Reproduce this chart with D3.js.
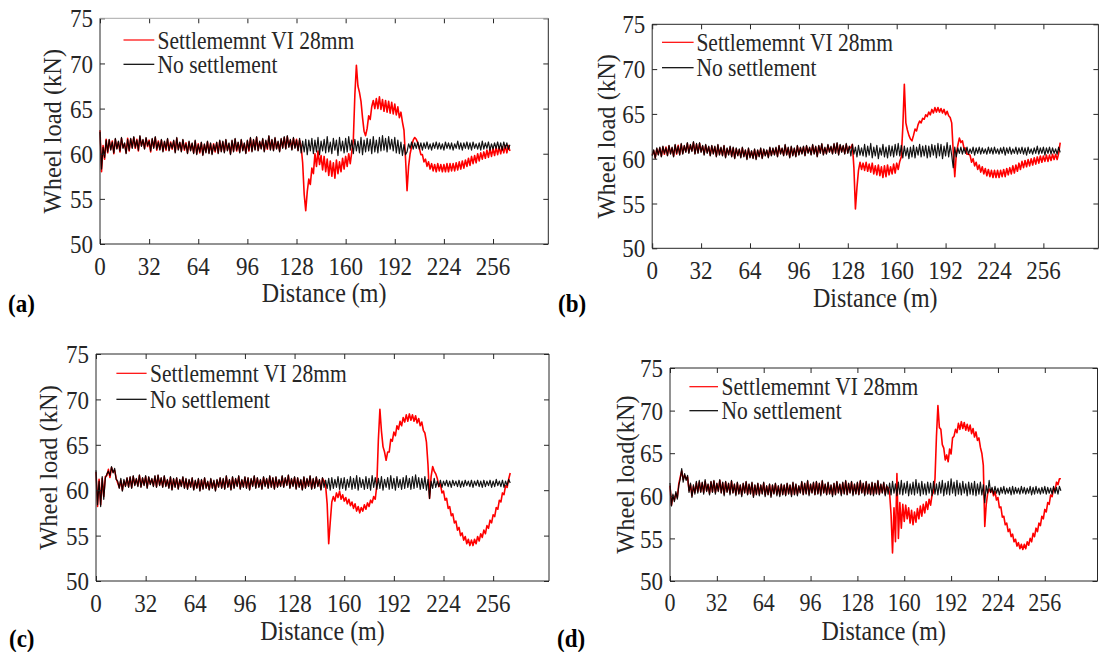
<!DOCTYPE html>
<html><head><meta charset="utf-8">
<script src="https://cdn.jsdelivr.net/npm/d3@7/dist/d3.min.js"></script>
<style>
body{margin:0;background:#fff}
svg{display:block}
#chart text{font-family:"Liberation Serif","Times New Roman",Times,serif;}
</style>
</head><body>
<svg id="chart" width="1099" height="652"></svg>
<script>
// ---------------- DATA ----------------
const dist = [
0,1,2,3,4,5,6,7,8,9,10,11,12,13,14,15,16,17,18,19,
20,21,22,23,24,25,26,27,28,29,30,31,32,33,34,35,36,37,38,39,
40,41,42,43,44,45,46,47,48,49,50,51,52,53,54,55,56,57,58,59,
60,61,62,63,64,65,66,67,68,69,70,71,72,73,74,75,76,77,78,79,
80,81,82,83,84,85,86,87,88,89,90,91,92,93,94,95,96,97,98,99,
100,101,102,103,104,105,106,107,108,109,110,111,112,113,114,115,116,117,118,119,
120,121,122,123,124,125,126,127,128,129,130,131,132,133,134,135,136,137,138,139,
140,141,142,143,144,145,146,147,148,149,150,151,152,153,154,155,156,157,158,159,
160,161,162,163,164,165,166,167,168,169,170,171,172,173,174,175,176,177,178,179,
180,181,182,183,184,185,186,187,188,189,190,191,192,193,194,195,196,197,198,199,
200,201,202,203,204,205,206,207,208,209,210,211,212,213,214,215,216,217,218,219,
220,221,222,223,224,225,226,227,228,229,230,231,232,233,234,235,236,237,238,239,
240,241,242,243,244,245,246,247,248,249,250,251,252,253,254,255,256,257,258,259,
260,261,262,263,264,265,266,267];

const xTicks = [0,32,64,96,128,160,192,224,256];
const yTicks = [50,55,60,65,70,75];
const xDomain = [0,292];
const yDomain = [50,75];
const seriesNames = ["Settlememnt VI 28mm","No settlement"];
const panelLabels = ["(a)","(b)","(c)","(d)"];
const yTitles = ["Wheel load (kN)","Wheel load (kN)","Wheel load (kN)","Wheel load(kN)"];
const xTitle = "Distance (m)";

// (a)
const setA = [
62.6,58.0,60.9,59.4,61.6,60.1,61.5,60.5,61.4,60.0,61.6,60.6,61.3,60.2,61.7,60.7,61.1,60.1,61.7,60.3,
61.6,60.7,61.8,60.6,61.6,60.3,61.9,60.9,61.5,60.6,61.7,60.8,61.5,60.2,61.6,60.7,61.8,60.4,61.4,60.5,
61.5,60.3,61.3,60.4,61.6,60.4,61.3,60.5,61.4,60.2,61.7,60.5,61.2,60.3,61.5,60.4,61.2,60.1,61.3,60.4,
61.1,60.1,61.4,60.0,61.1,60.1,61.2,59.9,61.0,60.2,61.3,60.1,61.1,60.0,61.1,60.2,61.2,60.1,61.4,60.3,
61.3,60.2,61.5,60.4,61.1,60.0,61.4,60.3,61.6,60.3,61.2,60.2,61.5,60.4,61.1,60.1,61.4,60.3,61.7,60.3,
61.5,60.5,61.8,60.4,61.3,60.6,61.6,60.3,61.4,60.5,61.9,60.5,61.5,60.4,61.7,60.6,61.3,60.3,61.6,60.7,
61.8,60.6,61.9,60.8,61.5,60.5,61.7,60.7,61.6,60.4,61.5,60.8,59.0,55.5,53.7,55.8,57.2,56.6,58.4,57.8,
60.0,58.6,60.3,58.8,59.8,58.2,59.7,58.0,59.4,57.6,59.2,57.5,59.0,57.3,59.3,57.8,59.1,58.0,59.5,58.3,
59.7,58.6,60.0,58.9,60.2,61.5,66.5,69.8,67.5,66.8,65.8,64.0,62.5,62.0,62.8,64.2,63.8,65.2,65.9,65.0,
66.1,65.0,66.3,64.9,66.0,64.7,65.9,64.6,65.8,64.5,65.7,64.4,65.5,64.3,65.2,64.0,64.6,63.5,62.6,59.5,
55.9,58.6,60.0,60.8,61.5,61.8,61.6,61.2,60.6,59.9,59.9,59.1,59.4,58.6,59.1,58.3,58.9,58.1,58.8,58.0,
58.9,58.1,58.8,58.0,58.8,58.0,58.9,58.0,58.9,58.1,58.9,58.1,59.0,58.2,59.1,58.3,59.2,58.4,59.3,58.6,
59.5,58.7,59.7,58.9,59.8,59.0,60.0,59.2,60.1,59.4,60.2,59.5,60.4,59.6,60.5,59.7,60.6,59.8,60.7,59.9,
60.7,60.0,60.8,60.1,60.9,60.1,60.9,60.3];
const noA = [
62.4,58.3,60.7,59.6,61.5,60.2,61.6,60.4,61.3,60.1,61.7,60.5,61.4,60.3,61.8,60.6,61.2,60.0,61.6,60.4,
61.7,60.6,61.9,60.7,61.5,60.4,62.0,60.8,61.6,60.5,61.8,60.9,61.4,60.3,61.7,60.6,61.9,60.5,61.3,60.4,
61.6,60.2,61.4,60.5,61.7,60.3,61.2,60.6,61.5,60.1,61.8,60.4,61.3,60.2,61.6,60.5,61.1,60.0,61.4,60.3,
61.2,60.0,61.5,59.9,61.0,60.2,61.3,59.8,61.1,60.1,61.4,60.0,61.2,59.9,61.0,60.3,61.3,60.0,61.5,60.2,
61.4,60.1,61.6,60.3,61.2,59.9,61.5,60.2,61.7,60.4,61.3,60.1,61.6,60.3,61.2,60.0,61.5,60.4,61.8,60.2,
61.6,60.4,61.9,60.3,61.4,60.5,61.7,60.2,61.5,60.6,62.0,60.4,61.6,60.3,61.8,60.5,61.4,60.2,61.7,60.6,
61.9,60.5,62.0,60.7,61.6,60.4,61.8,60.6,61.5,60.3,61.7,60.1,61.4,60.2,61.6,59.9,61.5,60.3,61.7,60.0,
61.5,60.2,61.8,59.9,61.4,60.3,61.6,60.1,61.9,60.2,61.3,60.0,61.7,60.4,61.5,59.8,61.8,60.3,61.4,60.1,
61.7,60.2,61.9,60.4,61.5,60.0,61.6,60.3,61.4,60.1,61.8,59.9,61.5,60.2,61.7,60.3,61.6,60.0,61.9,60.2,
61.5,60.1,61.8,60.3,62.0,60.4,61.7,60.2,61.9,60.5,61.6,60.3,61.8,60.1,61.5,60.0,61.3,59.8,61.0,59.9,
60.2,61.1,60.6,61.3,60.5,61.2,60.6,61.3,60.5,61.2,60.4,61.2,60.6,61.3,60.5,61.1,60.4,61.2,60.6,61.3,
60.5,61.2,60.5,61.1,60.4,61.3,60.6,61.2,60.5,61.2,60.4,61.1,60.6,61.4,60.5,61.2,60.4,61.2,60.6,61.3,
60.5,61.2,60.4,61.3,60.6,61.1,60.5,61.2,60.4,61.4,60.5,61.2,60.6,61.3,60.4,61.1,60.5,61.2,60.6,61.3,
60.5,61.2,60.4,61.3,60.6,61.2,60.5,61.0];

// (b)
const setB = [
60.4,60.9,60.1,61.1,60.5,61.2,60.3,61.3,60.5,61.3,60.4,61.4,60.6,61.2,60.3,61.5,60.5,61.5,60.5,61.6,
60.6,61.4,60.8,61.7,60.7,61.5,60.9,61.8,60.6,61.6,60.7,61.7,60.8,61.4,60.5,61.5,60.7,61.3,60.4,61.4,
60.6,61.3,60.3,61.5,60.5,61.2,60.4,61.4,60.2,61.1,60.5,61.3,60.3,61.2,60.1,61.1,60.4,61.0,60.2,61.2,
60.3,60.9,60.0,61.1,60.2,60.8,60.1,61.0,60.0,60.9,60.3,61.1,60.1,61.0,60.4,60.9,60.2,61.2,60.4,61.1,
60.5,61.2,60.3,61.4,60.6,61.1,60.4,61.5,60.5,61.2,60.2,61.3,60.4,61.1,60.3,61.4,60.5,61.2,60.6,61.3,
60.4,61.4,60.7,61.2,60.5,61.5,60.6,61.3,60.3,61.4,60.7,61.6,60.5,61.2,60.6,61.5,60.8,61.3,60.6,61.6,
60.7,61.7,60.5,61.5,60.8,61.4,60.6,61.6,60.7,61.3,61.2,61.6,59.0,54.4,56.8,58.7,59.6,58.8,59.5,58.7,
59.6,58.6,59.4,58.5,59.5,58.3,59.2,58.2,59.3,58.1,59.1,57.9,59.2,58.0,59.3,58.2,59.1,58.3,59.4,58.4,
59.5,58.8,59.7,60.2,63.5,68.3,64.0,63.2,62.6,62.2,62.0,62.6,63.3,63.1,63.8,64.2,64.0,64.5,64.4,64.9,
64.7,65.2,64.9,65.5,65.1,65.7,65.2,65.7,65.2,65.6,65.1,65.5,64.9,65.3,64.8,64.6,64.0,60.8,58.0,60.5,
61.5,62.3,61.8,62.0,61.2,61.2,60.5,60.5,60.4,59.6,60.0,59.2,59.6,58.8,59.3,58.5,59.1,58.3,58.9,58.1,
58.8,58.0,58.7,57.9,58.7,57.9,58.7,57.9,58.7,58.0,58.8,58.0,58.9,58.2,59.0,58.3,59.2,58.4,59.3,58.6,
59.5,58.8,59.7,59.0,59.8,59.1,59.9,59.2,60.0,59.3,60.1,59.4,60.2,59.5,60.3,59.6,60.3,59.7,60.4,59.7,
60.4,59.8,60.5,59.9,60.5,59.9,60.6,61.8];
const noB = [
60.3,61.0,60.0,61.2,60.4,61.3,60.2,61.4,60.6,61.2,60.3,61.5,60.5,61.3,60.2,61.6,60.6,61.4,60.4,61.7,
60.5,61.5,60.7,61.8,60.6,61.6,60.8,61.9,60.5,61.7,60.6,61.8,60.7,61.5,60.4,61.6,60.6,61.4,60.3,61.5,
60.5,61.4,60.2,61.6,60.4,61.3,60.3,61.5,60.1,61.2,60.4,61.4,60.2,61.3,60.0,61.2,60.3,61.1,60.1,61.3,
60.2,61.0,59.9,61.2,60.1,60.9,60.0,61.1,59.9,61.0,60.2,61.2,60.0,61.1,60.3,61.0,60.1,61.3,60.3,61.2,
60.4,61.3,60.2,61.5,60.5,61.2,60.3,61.6,60.4,61.3,60.1,61.4,60.3,61.2,60.2,61.5,60.4,61.3,60.5,61.4,
60.3,61.5,60.6,61.3,60.4,61.6,60.5,61.4,60.2,61.5,60.6,61.7,60.4,61.3,60.5,61.6,60.7,61.4,60.5,61.7,
60.6,61.8,60.4,61.6,60.7,61.5,60.5,61.7,60.6,61.4,60.3,61.6,60.5,61.3,60.2,61.5,60.4,61.2,60.3,61.6,
60.2,61.4,60.4,61.7,60.1,61.3,60.3,61.5,60.0,61.2,60.4,61.6,60.2,61.3,60.1,61.5,60.3,61.4,60.2,61.6,
60.4,61.7,60.3,61.5,60.1,61.4,60.3,61.2,60.0,61.3,60.2,61.5,60.1,61.3,60.4,61.6,60.2,61.4,60.3,61.5,
60.1,61.4,60.2,61.6,60.4,61.5,60.1,61.7,60.3,61.6,60.0,61.4,60.3,61.8,60.2,61.5,60.4,59.0,61.3,60.2,
61.2,60.6,61.3,60.5,61.2,60.6,61.3,60.5,61.1,60.6,61.3,60.4,61.2,60.6,61.3,60.5,61.2,60.6,61.1,60.5,
61.3,60.6,61.2,60.5,61.3,60.6,61.1,60.5,61.2,60.6,61.3,60.4,61.2,60.6,61.3,60.5,61.1,60.6,61.3,60.5,
61.2,60.6,61.3,60.5,61.2,60.4,61.3,60.6,61.1,60.5,61.2,60.6,61.4,60.5,61.2,60.6,61.3,60.4,61.2,60.6,
61.3,60.5,61.2,60.6,61.1,60.5,61.3,60.7];

// (c)
const setC = [
62.0,58.2,61.2,58.4,61.3,59.3,61.5,61.6,62.3,61.4,62.5,62.0,62.2,61.3,60.8,60.3,61.1,60.0,61.0,60.5,
61.3,60.4,61.4,60.3,61.5,60.6,61.2,60.5,61.6,60.4,61.3,60.6,61.5,60.3,61.4,60.7,61.2,60.5,61.5,60.4,
61.6,60.6,61.3,60.4,61.5,60.5,61.1,60.3,61.4,60.1,61.2,60.4,61.3,60.2,61.1,60.5,61.4,60.3,61.2,60.2,
61.1,60.4,61.3,60.1,61.0,60.3,61.2,60.0,61.1,60.2,61.3,60.3,60.9,60.1,61.2,60.3,61.0,60.0,61.1,60.4,
61.3,60.3,61.2,60.2,61.5,60.4,61.1,60.1,61.4,60.3,61.2,60.5,61.5,60.2,61.1,60.4,61.4,60.3,61.3,60.1,
61.2,60.5,61.5,60.3,61.3,60.4,61.1,60.2,61.4,60.5,61.2,60.3,61.5,60.4,61.3,60.2,61.4,60.4,61.1,60.5,
61.5,60.4,61.3,60.6,61.6,60.3,61.2,60.5,61.4,60.2,61.3,60.4,61.1,60.1,61.4,60.3,61.2,60.5,61.5,60.2,
61.2,60.3,61.4,60.5,61.1,60.1,61.3,61.0,60.5,58.5,54.1,56.5,58.7,59.3,58.8,59.7,59.2,59.9,59.0,59.5,
58.8,59.2,58.5,59.0,58.3,58.7,58.0,58.5,57.7,58.2,57.5,58.1,57.7,58.4,57.9,58.6,58.2,58.9,58.6,59.3,
59.0,60.5,65.5,68.9,66.5,64.8,64.2,63.3,64.2,64.2,65.6,65.4,66.4,66.0,67.1,66.7,67.6,67.1,68.0,67.5,
68.3,67.6,68.4,67.7,68.3,67.6,68.2,67.4,67.9,67.1,67.5,66.6,66.3,65.3,62.8,59.1,61.5,62.6,62.1,61.8,
61.3,60.4,60.7,59.7,59.9,58.9,59.1,58.0,58.2,57.2,57.4,56.4,56.6,55.6,55.9,55.0,55.3,54.5,54.9,54.1,
54.6,53.9,54.5,53.9,54.6,54.1,54.9,54.4,55.2,54.8,55.6,55.2,56.1,55.8,56.7,56.4,57.3,57.1,58.1,57.9,
58.9,58.7,59.7,59.5,60.5,60.3,61.2,61.9];
const noC = [
62.2,58.4,61.0,58.2,61.5,59.0,61.3,61.8,62.1,61.6,62.6,61.9,62.4,61.2,61.0,60.2,61.3,59.9,61.2,60.4,
61.4,60.3,61.5,60.2,61.6,60.5,61.3,60.4,61.7,60.3,61.4,60.5,61.6,60.2,61.5,60.6,61.3,60.4,61.6,60.3,
61.7,60.5,61.4,60.3,61.6,60.4,61.2,60.2,61.5,60.0,61.3,60.3,61.4,60.1,61.2,60.4,61.5,60.2,61.3,60.1,
61.2,60.3,61.4,60.0,61.1,60.2,61.3,59.9,61.2,60.1,61.4,60.2,61.0,60.0,61.3,60.2,61.1,59.9,61.2,60.3,
61.4,60.2,61.3,60.1,61.6,60.3,61.2,60.0,61.5,60.2,61.3,60.4,61.6,60.1,61.2,60.3,61.5,60.2,61.4,60.0,
61.3,60.4,61.6,60.2,61.4,60.3,61.2,60.1,61.5,60.4,61.3,60.2,61.6,60.3,61.4,60.1,61.5,60.3,61.2,60.4,
61.6,60.3,61.4,60.5,61.7,60.2,61.3,60.4,61.5,60.1,61.4,60.3,61.2,60.0,61.5,60.2,61.3,60.4,61.6,60.1,
61.3,60.2,61.5,60.4,61.2,60.0,61.4,60.3,61.1,60.2,61.3,60.0,61.4,60.2,61.2,60.3,61.5,60.1,61.3,60.2,
61.4,60.0,61.2,60.3,61.5,60.1,61.3,60.2,61.6,60.0,61.4,60.3,61.2,60.1,61.5,60.2,61.3,60.0,61.6,60.3,
61.4,60.1,61.3,60.2,61.5,60.0,61.2,60.3,61.4,60.1,61.6,60.2,61.3,60.0,61.5,60.3,61.2,60.1,61.4,60.2,
61.6,60.3,61.3,60.1,61.5,60.2,61.7,60.3,61.4,60.1,61.3,60.2,61.5,60.0,61.2,59.1,61.0,60.2,61.3,60.3,
61.0,60.4,61.1,60.3,61.0,60.5,61.1,60.4,61.0,60.3,61.1,60.5,61.0,60.4,61.1,60.3,61.0,60.4,61.1,60.5,
61.0,60.4,61.1,60.3,61.0,60.5,61.1,60.4,61.0,60.3,61.1,60.4,61.0,60.5,61.1,60.3,61.0,60.4,61.2,60.5,
61.0,60.4,61.1,60.3,61.0,60.5,61.2,60.8];

// (d)
const setD = [
61.2,58.9,60.0,59.5,60.3,59.8,61.4,62.2,62.9,61.9,62.4,62.0,62.2,60.6,61.3,60.0,61.1,60.4,61.5,60.5,
61.6,60.5,61.5,60.4,61.7,60.6,61.3,60.3,61.6,60.5,61.7,60.4,61.4,60.6,61.8,60.4,61.5,60.2,61.6,60.5,
61.4,60.3,61.7,60.4,61.3,60.2,61.5,60.3,61.2,60.1,61.4,60.4,61.6,60.2,61.3,60.3,61.5,60.0,61.2,60.2,
61.4,60.2,61.2,60.3,61.5,60.1,61.1,60.2,61.3,60.0,61.2,60.3,61.4,60.2,61.1,60.1,61.3,60.2,61.2,60.1,
61.4,60.3,61.2,60.1,61.5,60.2,61.3,60.2,61.1,60.4,61.6,60.2,61.4,60.3,61.7,60.2,61.3,60.4,61.5,60.2,
61.6,60.3,61.4,60.2,61.7,60.4,61.3,60.2,61.5,60.3,61.2,60.1,61.4,60.2,61.6,60.4,61.3,60.2,61.5,60.3,
61.7,60.2,61.4,60.4,61.6,60.2,61.3,60.3,61.5,60.2,61.7,60.4,61.4,60.2,61.6,60.3,61.3,60.2,61.5,60.2,
61.4,60.3,61.7,60.2,61.3,60.4,61.5,60.2,61.1,60.9,60.3,57.8,53.3,58.6,54.6,62.6,55.0,59.2,56.2,59.0,
57.0,58.9,57.3,58.6,56.8,58.3,56.6,58.1,56.9,58.5,57.3,58.8,57.6,59.0,58.0,59.3,58.4,59.6,58.9,60.1,
60.4,62.0,67.0,70.6,68.0,67.8,66.0,65.6,64.2,64.8,64.0,65.5,64.9,66.8,67.0,67.8,67.4,68.5,67.8,68.7,
67.9,68.6,67.7,68.4,67.6,68.3,67.3,67.9,66.9,67.5,66.5,66.8,65.7,65.0,63.6,56.4,59.0,60.3,60.8,60.4,
60.8,60.0,60.5,59.5,59.8,58.6,58.7,57.5,57.6,56.6,56.8,55.8,56.1,55.2,55.5,54.6,54.9,54.1,54.5,53.8,
54.3,53.7,54.3,53.8,54.6,54.2,55.0,54.6,55.6,55.2,56.2,55.8,56.8,56.5,57.6,57.3,58.4,58.1,59.2,59.0,
60.1,59.9,60.9,60.6,61.6,61.3,62.0,62.0];
const noD = [
61.5,58.8,60.2,59.3,60.5,59.6,61.2,62.0,63.2,61.6,62.6,61.8,62.4,60.4,61.5,59.8,61.3,60.2,61.7,60.3,
61.8,60.4,61.6,60.2,61.9,60.5,61.4,60.1,61.7,60.4,61.8,60.2,61.5,60.5,61.9,60.3,61.6,60.0,61.7,60.4,
61.5,60.1,61.8,60.3,61.4,60.0,61.6,60.2,61.3,59.9,61.5,60.3,61.7,60.1,61.4,60.2,61.6,59.8,61.3,60.1,
61.5,60.0,61.3,60.2,61.6,59.9,61.2,60.1,61.4,59.8,61.3,60.2,61.5,60.0,61.2,59.9,61.4,60.1,61.3,60.0,
61.5,60.2,61.3,59.9,61.6,60.1,61.4,60.0,61.2,60.3,61.7,60.1,61.5,60.2,61.8,60.0,61.4,60.3,61.6,60.1,
61.7,60.2,61.5,60.0,61.8,60.3,61.4,60.1,61.6,60.2,61.3,59.9,61.5,60.1,61.7,60.3,61.4,60.0,61.6,60.2,
61.8,60.1,61.5,60.3,61.7,60.0,61.4,60.2,61.6,60.1,61.8,60.3,61.5,60.0,61.7,60.2,61.4,60.1,61.6,60.0,
61.5,60.2,61.8,60.1,61.4,60.3,61.6,60.0,61.3,60.2,61.5,60.1,61.7,60.3,61.4,60.0,61.6,60.2,61.8,60.1,
61.5,60.3,61.7,60.0,61.4,60.2,61.6,60.1,61.9,60.3,61.5,60.0,61.7,60.2,61.4,60.1,61.6,60.3,61.5,60.0,
61.7,60.2,61.4,60.1,61.6,60.3,61.8,60.0,61.5,60.2,61.7,60.1,62.0,60.3,61.6,60.0,61.8,60.2,61.5,60.1,
61.7,60.3,61.4,60.0,61.6,60.2,61.5,60.1,61.7,60.0,61.4,60.2,61.6,60.1,61.3,59.2,61.2,60.3,61.8,60.4,
61.0,60.2,61.1,60.3,60.9,60.1,61.0,60.3,61.1,60.2,60.9,60.3,61.0,60.1,61.1,60.2,61.0,60.3,60.9,60.2,
61.1,60.3,61.0,60.2,60.9,60.3,61.1,60.1,61.0,60.2,61.1,60.3,60.9,60.2,61.0,60.3,61.1,60.2,61.0,60.3,
60.9,60.2,61.1,60.3,61.0,60.2,61.1,60.6];

// ---------------- LAYOUT ----------------
const INK = "#262626";
const STRETCH = 1.13;   // text in the source figure is slightly taller than wide
const panels = [
  {set:setA, no:noA, i:0, l:100, r:548.3, t:18.3, b:244, ytx:52, xty:293, labX:8, labY:303, tickFs:23,
   leg:{x1:123.5, x2:154.3, tx:157.5, y1:40, y2:64.3}, topColor:"#a8a8a8"},
  {set:setB, no:noB, i:1, l:652.2, r:1098.4, t:24.3, b:248.3, ytx:606, xty:297.5, labX:558, labY:303, tickFs:23,
   leg:{x1:662, x2:693.6, tx:696.4, y1:42.3, y2:67.7}, topColor:INK},
  {set:setC, no:noC, i:2, l:96, r:549, t:354, b:581, ytx:48, xty:630.5, labX:9, labY:638, tickFs:23,
   leg:{x1:116.4, x2:146.6, tx:150, y1:373.3, y2:399.3}, topColor:INK},
  {set:setD, no:noD, i:3, l:670, r:1097.5, t:368, b:581, ytx:625, xty:630.5, labX:557, labY:638, tickFs:22,
   leg:{x1:689.4, x2:718, tx:721.6, y1:386.7, y2:410.7}, topColor:INK}
];

const svg = d3.select("#chart");
svg.append("rect").attr("width",1099).attr("height",652).attr("fill","#fff");

function styleTicks(sel){
  sel.select(".domain").remove();
  sel.selectAll(".tick line").attr("stroke", INK).attr("stroke-width", 1);
  sel.selectAll(".tick text").remove();
}
function label(g, txt, cx, cy, size, anchor, extra){
  const t = g.append("text").text(txt)
    .attr("transform", `translate(${cx},${cy}) scale(1,${STRETCH})`)
    .attr("dy","0.35em").attr("text-anchor", anchor).attr("font-size", size).attr("fill", INK);
  if (extra) extra(t);
  return t;
}

panels.forEach(p => {
  const x = d3.scaleLinear().domain(xDomain).range([p.l, p.r]);
  const y = d3.scaleLinear().domain(yDomain).range([p.b, p.t]);
  const g = svg.append("g");

  const line = d3.line().x((d,i) => x(dist[i])).y(d => y(d));
  g.append("path").datum(p.set).attr("d", line)
    .attr("fill","none").attr("stroke","#ff0000").attr("stroke-width",1.6).attr("stroke-linejoin","round");
  g.append("path").datum(p.no).attr("d", line)
    .attr("fill","none").attr("stroke","#000").attr("stroke-width",1.2).attr("stroke-opacity",0.92).attr("stroke-linejoin","round");

  // tick marks (inward, on all four sides)
  g.append("g").attr("transform",`translate(0,${p.b})`)
    .call(d3.axisBottom(x).tickValues(xTicks).tickSize(-5)).call(styleTicks);
  g.append("g").attr("transform",`translate(0,${p.t})`)
    .call(d3.axisTop(x).tickValues(xTicks).tickSize(-5)).call(styleTicks);
  g.append("g").attr("transform",`translate(${p.l},0)`)
    .call(d3.axisLeft(y).tickValues(yTicks).tickSize(-5)).call(styleTicks);
  g.append("g").attr("transform",`translate(${p.r},0)`)
    .call(d3.axisRight(y).tickValues(yTicks).tickSize(-5)).call(styleTicks);

  // tick labels placed through the scales
  xTicks.forEach(v => label(g, String(v), x(v), p.b + 21.7, p.tickFs, "middle"));
  yTicks.forEach(v => label(g, String(v), p.l - 7, y(v), 23, "end"));

  // box
  const box = g.append("g").attr("fill","none").attr("stroke-width",1);
  box.append("line").attr("x1",p.l).attr("x2",p.r).attr("y1",p.b).attr("y2",p.b).attr("stroke",INK);
  box.append("line").attr("x1",p.l).attr("x2",p.l).attr("y1",p.t).attr("y2",p.b).attr("stroke",INK);
  box.append("line").attr("x1",p.r).attr("x2",p.r).attr("y1",p.t).attr("y2",p.b).attr("stroke",INK);
  box.append("line").attr("x1",p.l).attr("x2",p.r).attr("y1",p.t).attr("y2",p.t).attr("stroke",p.topColor);

  // titles
  label(g, xTitle, (p.l+p.r)/2, p.xty, 24, "middle");
  g.append("text").text(yTitles[p.i])
    .attr("transform",`translate(${p.ytx},${(p.t+p.b)/2}) rotate(-90)`).attr("dy","0.35em")
    .attr("text-anchor","middle").attr("font-size",24.5).attr("fill",INK);
  label(g, panelLabels[p.i], p.labX, p.labY, 23, "start", t => t.attr("font-weight","bold").attr("fill","#000"));

  // legend
  [[seriesNames[0],"#ff0000",p.leg.y1],[seriesNames[1],"#000",p.leg.y2]].forEach(([name,col,yy]) => {
    g.append("line").attr("x1",p.leg.x1).attr("x2",p.leg.x2).attr("y1",yy).attr("y2",yy)
      .attr("stroke",col).attr("stroke-width",1.2);
    label(g, name, p.leg.tx, yy, 21.5, "start");
  });
});
</script>
</body></html>
